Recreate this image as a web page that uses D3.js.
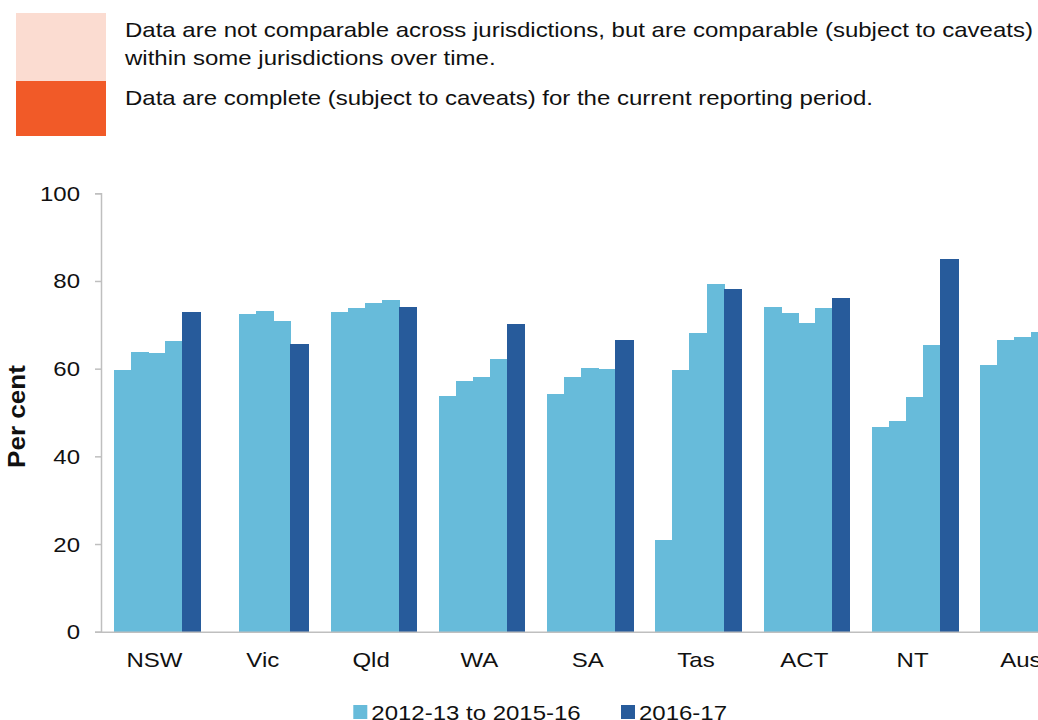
<!DOCTYPE html>
<html>
<head>
<meta charset="utf-8">
<script src="https://cdnjs.cloudflare.com/ajax/libs/d3/7.8.5/d3.min.js"></script>
<style>
    body { margin: 0; background: #fff; overflow: hidden; }
    svg { display: block; font-family: "Liberation Sans", Arial, sans-serif; }
</style>
</head>
<body>
<div id="chart"></div>
<script>

// jurisdictions along the x axis
const jurisdictions = ["NSW", "Vic", "Qld", "WA", "SA", "Tas", "ACT", "NT", "Aus"];

// earlier years, one row per jurisdiction (Vic has no 2012-13 value)
const earlyYears = ["2012-13", "2013-14", "2014-15", "2015-16"];
const earlyValues = [
    [59.6, 63.9, 63.6, 66.2],
    [null, 72.4, 73.2, 70.9],
    [73.0, 73.8, 75.0, 75.6],
    [53.8, 57.2, 58.2, 62.1],
    [54.2, 58.0, 60.1, 60.0],
    [20.9, 59.6, 68.1, 79.3],
    [74.1, 72.7, 70.5, 73.9],
    [46.6, 48.1, 53.5, 65.3],
    [60.9, 66.6, 67.2, 68.4]
];

// current year
const latestValues = [73.0, 65.6, 74.0, 70.1, 66.6, 78.1, 76.2, 84.9, 70.5];

const yTicks = [0, 20, 40, 60, 80, 100];
const seriesNames = ["2012-13 to 2015-16", "2016-17"];

// caveat boxes at the top
const caveatLines = [
    ["Data are not comparable across jurisdictions, but are comparable (subject to caveats)",
     "within some jurisdictions over time."],
    ["Data are complete (subject to caveats) for the current reporting period."]
];

let width = 1038, height = 720;
let colors = {light: "#67bbda", dark: "#275b9b", axis: "#bfbfbf", text: "#111"};
let stretch = 1.2;   // text in the original is a bit wide

let svg = d3.select("#chart").append("svg")
    .attr("width", width)
    .attr("height", height);

// helper for the stretched text labels
function label(parent, x, y, txt, anchor) {
    return parent.append("text")
        .attr("transform", `translate(${x},${y}) scale(${stretch},1)`)
        .attr("text-anchor", anchor || "start")
        .attr("font-size", 20)
        .attr("fill", colors.text)
        .text(txt);
}

// header boxes
svg.append("rect").attr("x", 16).attr("y", 13).attr("width", 90).attr("height", 68).attr("fill", "#fbdcd1");
svg.append("rect").attr("x", 16).attr("y", 81).attr("width", 90).attr("height", 55).attr("fill", "#f15a28");

caveatLines[0].forEach((t, i) => label(svg, 125, 37 + i * 28, t));
label(svg, 125, 104.5, caveatLines[1][0]);

// scales
let x = d3.scaleBand()
    .domain(jurisdictions)
    .range([101, 1078.4])
    .paddingInner(0.215)
    .paddingOuter(0.12);

let slot = d3.scaleBand()
    .domain(d3.range(5))
    .range([0, x.bandwidth()]);

let y = d3.scaleLinear()
    .domain([0, 100])
    .range([631.7, 193.3]);

// y axis, labels drawn separately so they can be stretched
let yAxis = d3.axisLeft(y).tickValues(yTicks).tickSize(6).tickFormat("");
let yg = svg.append("g").attr("transform", "translate(101,0)").call(yAxis);
yg.select(".domain").attr("stroke", colors.axis).attr("stroke-width", 1.5);
yg.selectAll(".tick line").attr("stroke", colors.axis).attr("stroke-width", 1.5);
yTicks.forEach(t => label(svg, 80, y(t) + 7.5, t, "end"));

svg.append("text")
    .attr("transform", `translate(25,416.5) scale(${stretch},1) rotate(-90)`)
    .attr("text-anchor", "middle")
    .attr("font-size", 20)
    .attr("font-weight", "bold")
    .attr("fill", colors.text)
    .attr("textLength", 103)
    .attr("lengthAdjust", "spacingAndGlyphs")
    .text("Per cent");

// bars
let groups = svg.selectAll(".grp")
    .data(jurisdictions)
    .enter().append("g")
    .attr("class", "grp")
    .attr("transform", d => `translate(${x(d)},0)`);

groups.each(function(d, i) {
    let g = d3.select(this);
    earlyValues[i].forEach((v, j) => {
        if (v === null) return;
        g.append("rect")
            .attr("x", slot(j))
            .attr("width", slot.bandwidth() + 1)
            .attr("y", y(v))
            .attr("height", y(0) - y(v))
            .attr("shape-rendering", "crispEdges")
            .attr("fill", colors.light);
    });
    g.append("rect")
        .attr("x", slot(4))
        .attr("width", slot.bandwidth() + 1.5)
        .attr("y", y(latestValues[i]))
        .attr("height", y(0) - y(latestValues[i]))
        .attr("shape-rendering", "crispEdges")
        .attr("fill", colors.dark);
});

// x axis
let xAxis = d3.axisBottom(x).tickSize(0).tickFormat("");
let xg = svg.append("g").attr("transform", `translate(0,${y(0)})`).call(xAxis);
xg.select(".domain").attr("stroke", colors.axis).attr("stroke-width", 1.5);
jurisdictions.forEach(j => label(svg, x(j) + x.bandwidth() / 2 - 2, 667.3, j, "middle"));

// legend
let legend = svg.append("g").attr("transform", "translate(353.3,705)");
let legendItems = [{name: seriesNames[0], color: colors.light, dx: 0}, {name: seriesNames[1], color: colors.dark, dx: 267.7}];
legendItems.forEach(item => {
    legend.append("rect").attr("x", item.dx).attr("y", 0).attr("width", 14).attr("height", 14).attr("fill", item.color);
    label(legend, item.dx + 18, 14.5, item.name);
});

</script>
</body>
</html>
